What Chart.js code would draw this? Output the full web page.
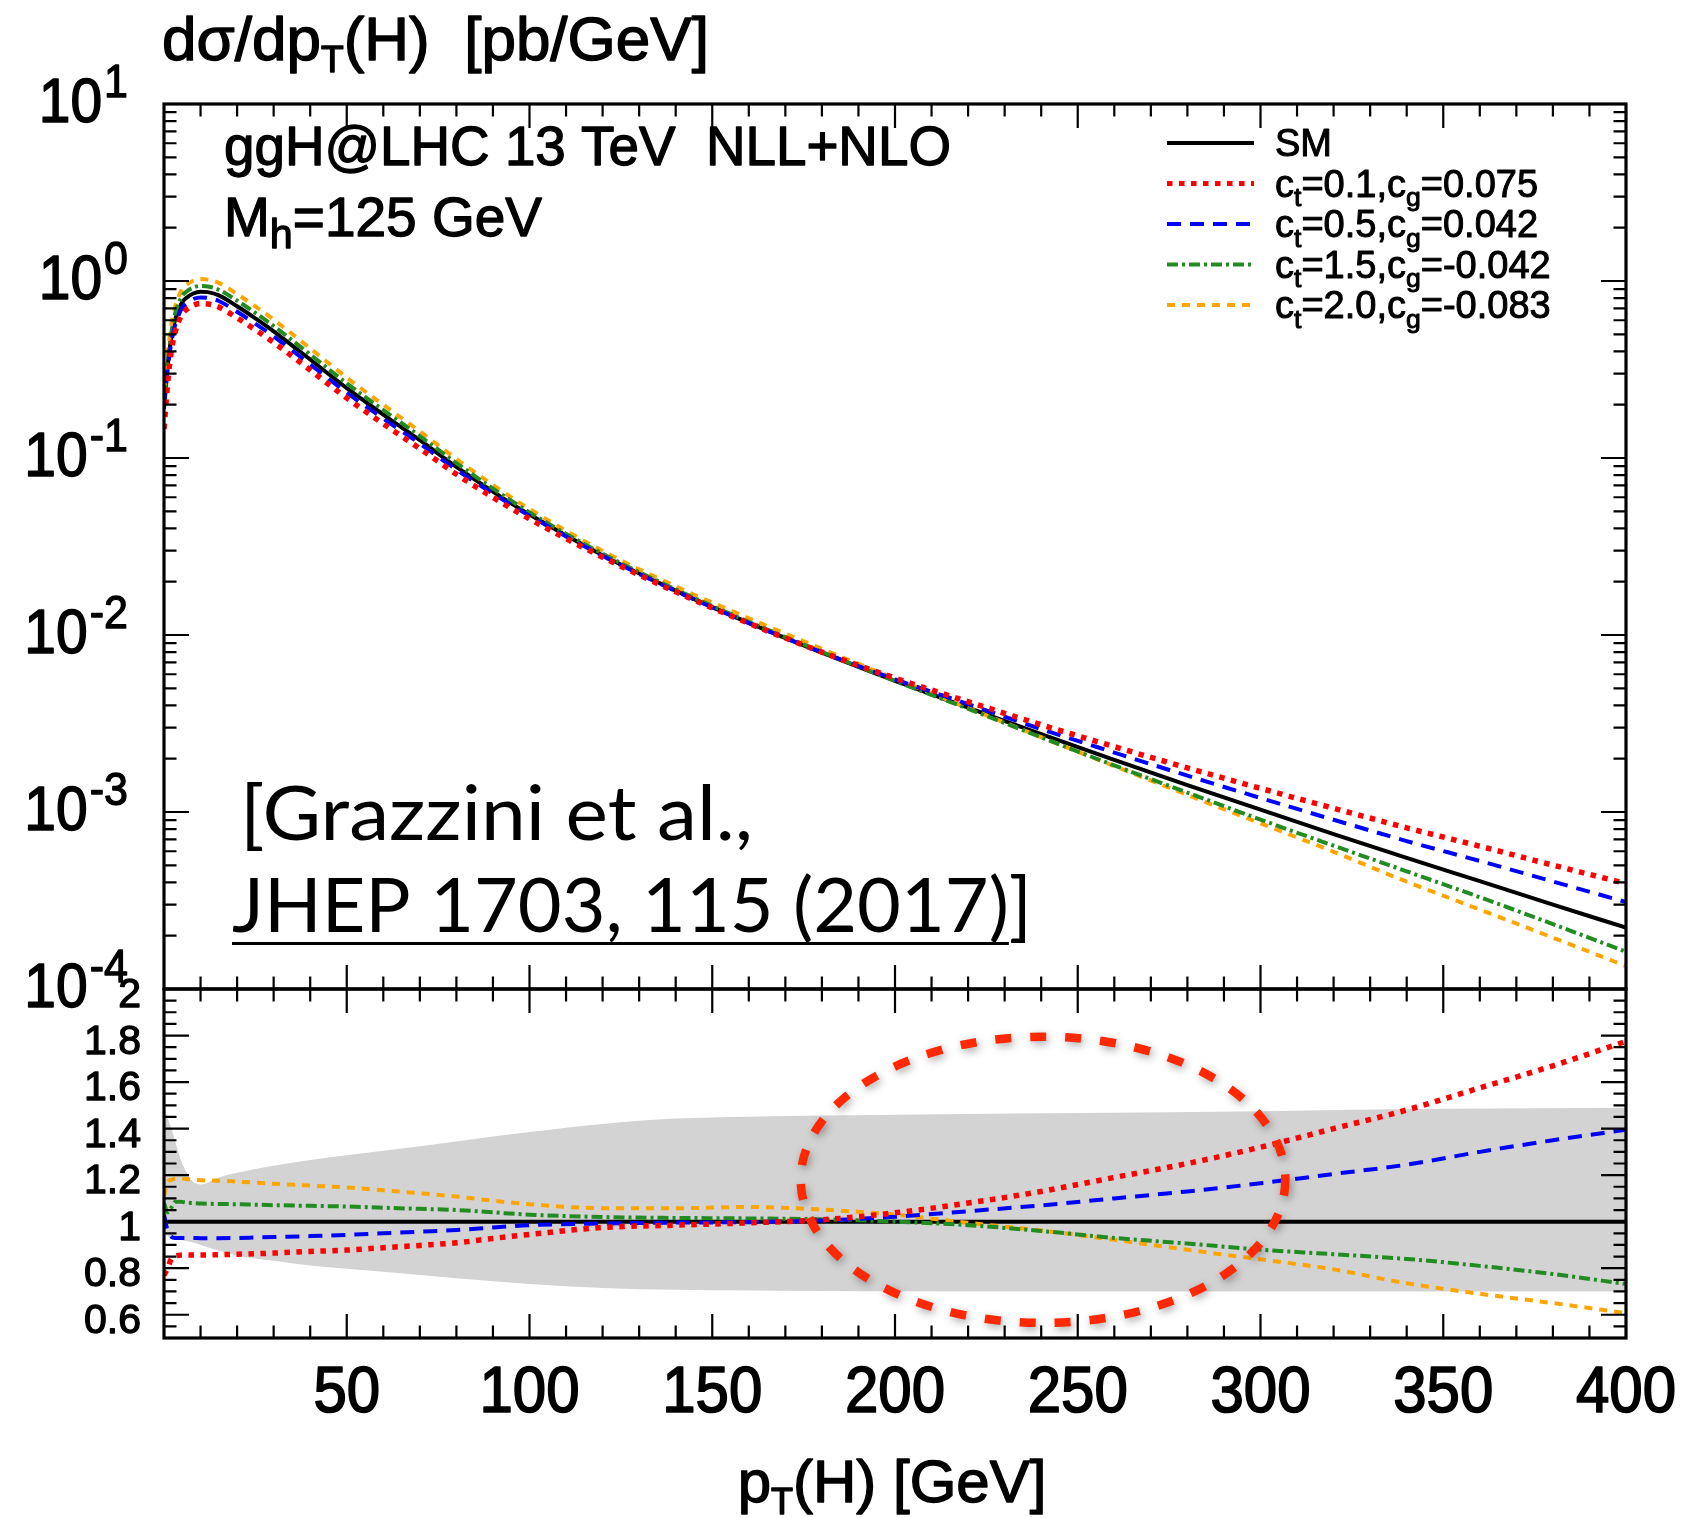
<!DOCTYPE html>
<html><head><meta charset="utf-8">
<script src="https://cdn.jsdelivr.net/npm/chart.js@4.4.1/dist/chart.umd.min.js"></script>
<style>html,body{margin:0;padding:0;background:#fff;}canvas{display:block;}</style>
</head><body>
<canvas id="c" width="1695" height="1518" style="width:1695px;height:1518px"></canvas>
<script>
// ---------------- data ----------------
const pT = [0,1,2,3,4,5,6,8,10,12,15,20,25,30,40,50,60,70,80,90,100,120,140,160,180,200,220,240,260,280,300,320,340,360,380,400];

// dsigma/dpT [pb/GeV]
const smXsec   = [0.19,0.33,0.48,0.60,0.69,0.76,0.80,0.85,0.87,0.865,0.83,0.72,0.615,0.52,0.36,0.248,0.176,0.126,0.0891,0.0646,0.0479,0.0282,0.0178,0.0117,0.00794,0.0055,0.00389,0.00275,0.00197,0.00142,0.00103,0.00075,0.00055,0.000407,0.0003,0.000222];
const ct01Xsec = [0.146,0.264,0.403,0.51,0.590,0.651,0.686,0.728,0.746,0.741,0.712,0.619,0.530,0.450,0.314,0.218,0.156,0.113,0.0810,0.0599,0.0453,0.0275,0.01753,0.01164,0.00800,0.00571,0.00420,0.00311,0.00234,0.001775,0.00136,0.00105,0.000814,0.000641,0.000501,0.000394];
const ct05Xsec = [0.196,0.317,0.449,0.558,0.642,0.707,0.744,0.791,0.808,0.804,0.771,0.670,0.573,0.486,0.338,0.234,0.167,0.1206,0.0859,0.0630,0.0472,0.0280,0.01773,0.01168,0.00798,0.00562,0.00407,0.00294,0.002167,0.001605,0.0012,0.000904,0.000685,0.000529,0.000405,0.00031];
const ct15Xsec = [0.205,0.343,0.509,0.651,0.749,0.825,0.866,0.918,0.938,0.932,0.893,0.774,0.660,0.557,0.3845,0.264,0.1866,0.1329,0.0936,0.0672,0.0493,0.02876,0.01808,0.01186,0.00802,0.0055,0.00383,0.00264,0.001832,0.001287,0.000906,0.000645,0.000462,0.00033,0.0002325,0.0001625];
const ct20Xsec = [0.211,0.386,0.566,0.711,0.818,0.901,0.946,1.003,1.025,1.018,0.976,0.844,0.718,0.605,0.416,0.2845,0.1998,0.1414,0.0987,0.0704,0.0515,0.02984,0.01883,0.01244,0.00835,0.00567,0.00387,0.002646,0.001816,0.001248,0.000863,0.000596,0.000404,0.000281,0.000195,0.0001348];

// ratio to SM
const smRatioX  = [0, 400];
const smRatio   = [1, 1];
const ct01Ratio = [0.77,0.80,0.84,0.85,0.855,0.857,0.857,0.857,0.857,0.857,0.858,0.86,0.862,0.865,0.872,0.878,0.888,0.898,0.909,0.928,0.945,0.975,0.985,0.995,1.008,1.038,1.08,1.13,1.19,1.25,1.32,1.40,1.48,1.575,1.67,1.775];
const ct05Ratio = [1.03,0.96,0.935,0.93,0.93,0.93,0.93,0.93,0.929,0.929,0.929,0.93,0.932,0.934,0.938,0.943,0.95,0.957,0.964,0.975,0.985,0.992,0.996,0.998,1.005,1.021,1.045,1.07,1.1,1.13,1.165,1.205,1.245,1.30,1.35,1.395];
const ct15Ratio = [1.08,1.04,1.06,1.085,1.086,1.085,1.082,1.08,1.078,1.077,1.076,1.075,1.073,1.071,1.068,1.065,1.06,1.055,1.05,1.04,1.03,1.02,1.016,1.014,1.01,1.0,0.985,0.96,0.93,0.906,0.88,0.86,0.84,0.81,0.775,0.732];
const ct20Ratio = [1.11,1.17,1.18,1.185,1.186,1.185,1.183,1.18,1.178,1.177,1.176,1.172,1.168,1.163,1.155,1.147,1.135,1.122,1.108,1.09,1.075,1.058,1.058,1.063,1.052,1.03,0.995,0.962,0.922,0.879,0.838,0.795,0.735,0.69,0.65,0.607];

// SM uncertainty band (ratio)
const bandX  = [0,2,5,8,10,15,20,30,40,50,60,80,100,120,140,160,180,200,250,300,350,400];
const bandUp = [1.49,1.40,1.25,1.17,1.16,1.19,1.21,1.24,1.265,1.285,1.305,1.345,1.385,1.42,1.443,1.451,1.456,1.46,1.467,1.475,1.485,1.49];
const bandLo = [0.95,0.93,0.92,0.91,0.90,0.875,0.855,0.832,0.812,0.798,0.785,0.757,0.732,0.715,0.707,0.704,0.702,0.701,0.70,0.70,0.70,0.70];

// ticks / labels
const xTicks = [50,100,150,200,250,300,350,400];
const xTickLabels = ['50','100','150','200','250','300','350','400'];
const logTicks = [10,1,0.1,0.01,0.001,0.0001];
const logTickExp = ['1','0','-1','-2','-3','-4'];
const ratioTicks = [2,1.8,1.6,1.4,1.2,1,0.8,0.6];
const ratioTickLabels = ['2','1.8','1.6','1.4','1.2','1','0.8','0.6'];
const legendLabels = ['SM','c_{t}=0.1,c_{g}=0.075','c_{t}=0.5,c_{g}=0.042','c_{t}=1.5,c_{g}=-0.042','c_{t}=2.0,c_{g}=-0.083'];
const yTitle = 'dσ/dp_{T}(H)  [pb/GeV]';
const xTitle = 'p_{T}(H) [GeV]';
const infoLines = ['ggH@LHC 13 TeV  NLL+NLO', 'M_{h}=125 GeV'];
const citeLines = ['[Grazzini et al.,', 'JHEP 1703, 115 (2017)]'];
// highlighted region (data coords: pT, ratio)
const ellipseCenter = [240.5, 1.18];
const ellipseRadius = [66.3, 0.615];

// ---------------- styles ----------------
const ST = {
  sm:  {color:'#000000', width:4,   dash:[]},
  r01: {color:'#ff0000', width:5.5, dash:[5.5,6.5]},
  b05: {color:'#0000ff', width:4,   dash:[14,9]},
  g15: {color:'#228b22', width:4,   dash:[11,4,3,4]},
  o20: {color:'#ffa500', width:4,   dash:[8,7]}
};
const FONT = '"Liberation Sans", Arial, Helvetica, sans-serif';

function pts(xs, ys){ return xs.map((x,i)=>({x:x, y:ys[i]})); }
function lineDs(xs, ys, st, axis){
  return {data:pts(xs,ys), yAxisID:axis, borderColor:st.color, borderWidth:st.width, borderDash:st.dash,
    borderCapStyle:'butt', pointRadius:0, fill:false, cubicInterpolationMode:'monotone', order:0};
}
const datasets = [
  lineDs(pT, ct01Xsec, ST.r01, 'y'),
  lineDs(pT, ct05Xsec, ST.b05, 'y'),
  lineDs(pT, ct15Xsec, ST.g15, 'y'),
  lineDs(pT, ct20Xsec, ST.o20, 'y'),
  lineDs(pT, smXsec,   ST.sm,  'y'),
  lineDs(pT, ct01Ratio, ST.r01, 'yr'),
  lineDs(pT, ct05Ratio, ST.b05, 'yr'),
  lineDs(pT, ct15Ratio, ST.g15, 'yr'),
  lineDs(pT, ct20Ratio, ST.o20, 'yr'),
  lineDs(smRatioX, smRatio, ST.sm, 'yr'),
  {data:pts(bandX,bandUp), yAxisID:'yr', borderWidth:0, pointRadius:0, backgroundColor:'#d3d3d3', fill:'+1', order:5, cubicInterpolationMode:'monotone'},
  {data:pts(bandX,bandLo), yAxisID:'yr', borderWidth:0, pointRadius:0, backgroundColor:'#d3d3d3', fill:false, order:5, cubicInterpolationMode:'monotone'}
];

// ---------------- text helpers ----------------
function parseRuns(s){
  const out=[]; const re=/([_^])\{([^}]*)\}/g; let last=0, m;
  while((m=re.exec(s))){ if(m.index>last) out.push([s.slice(last,m.index),'n']); out.push([m[2], m[1]==='_'?'sub':'sup']); last=re.lastIndex; }
  if(last<s.length) out.push([s.slice(last),'n']);
  return out;
}
function drawRuns(ctx, str, x, y, size, o){
  o = Object.assign({align:'left', sx:1, sy:1, font:FONT, color:'#000', subScale:0.7, subDy:0.24, supDy:-0.42, width:null, bold:1.1}, o||{});
  const parts = parseRuns(str);
  let W = 0; const ws = [];
  for(const p of parts){ const fs = p[1]==='n'?size:size*o.subScale; ctx.font = fs+'px '+o.font; const w = ctx.measureText(p[0]).width; ws.push(w); W += w; }
  let sx = o.sx; if(o.width) sx = o.width / W;
  const x0 = o.align==='left'? x : (o.align==='right'? x - W*sx : x - W*sx/2);
  ctx.save(); ctx.translate(x0, y); ctx.scale(sx, o.sy);
  ctx.fillStyle = o.color; ctx.strokeStyle = o.color; ctx.lineWidth = o.bold; ctx.lineJoin='round'; ctx.setLineDash([]);
  ctx.textBaseline='alphabetic'; ctx.textAlign='left';
  let cx = 0;
  parts.forEach((p,i)=>{ const fs = p[1]==='n'?size:size*o.subScale; ctx.font = fs+'px '+o.font;
    const dy = p[1]==='sub'? o.subDy*size : (p[1]==='sup'? o.supDy*size : 0);
    ctx.fillText(p[0], cx, dy); if(o.bold>0) ctx.strokeText(p[0], cx, dy); cx += ws[i]; });
  ctx.restore();
  return W*sx;
}

// ---------------- decoration plugin ----------------
const decor = {
  id:'decor',
  afterDraw(chart){
    const ctx = chart.ctx, X = chart.scales.x, Y = chart.scales.y, R = chart.scales.yr;
    const L = X.left, Rt = X.right;
    ctx.save();
    // frames
    ctx.strokeStyle = '#000'; ctx.lineWidth = 3.2; ctx.setLineDash([]);
    ctx.strokeRect(L, Y.top, Rt-L, Y.bottom-Y.top);
    ctx.strokeRect(L, R.top, Rt-L, R.bottom-R.top);
    // ticks
    ctx.lineWidth = 2.2;
    ctx.beginPath();
    for(let v=10; v<400; v+=10){
      const px = X.getPixelForValue(v); const len = (v%50===0)?24:12.5;
      ctx.moveTo(px, Y.top); ctx.lineTo(px, Y.top+len);
      ctx.moveTo(px, Y.bottom-len); ctx.lineTo(px, R.top+len);
      ctx.moveTo(px, R.bottom-len); ctx.lineTo(px, R.bottom);
    }
    for(let k=-4; k<=0; k++){
      for(let m=1; m<=9; m++){
        const v = m*Math.pow(10,k); if(k===-4 && m===1) continue;
        const py = Y.getPixelForValue(v); const len = (m===1)?25:12.5;
        ctx.moveTo(L, py); ctx.lineTo(L+len, py);
        ctx.moveTo(Rt-len, py); ctx.lineTo(Rt, py);
      }
    }
    for(let i=11; i<40; i++){
      const v = i*0.05; const py = R.getPixelForValue(v); const len = (i%4===0)?25:12.5;
      ctx.moveTo(L, py); ctx.lineTo(L+len, py);
      ctx.moveTo(Rt-len, py); ctx.lineTo(Rt, py);
    }
    ctx.stroke();

    // x tick labels
    xTicks.forEach((v,i)=>{ drawRuns(ctx, xTickLabels[i], X.getPixelForValue(v), R.bottom+74, 60, {align:'center', sy:1.08, bold:1.6}); });
    // ratio tick labels
    ratioTicks.forEach((v,i)=>{ drawRuns(ctx, ratioTickLabels[i], L-23, R.getPixelForValue(v)+18, 41, {align:'right', bold:1.3}); });
    // log tick labels
    logTicks.forEach((v,i)=>{
      const py = Y.getPixelForValue(v);
      const ws = drawRuns(ctx, logTickExp[i], L-36, py-7, 43, {align:'right', sy:1.08, bold:1.2});
      drawRuns(ctx, '10', L-36-ws-2, py+18, 57, {align:'right', sy:1.1, bold:1.4});
    });
    // titles
    drawRuns(ctx, yTitle, L-2, 60, 62, {subScale:0.6, subDy:0.2, bold:1.4});
    drawRuns(ctx, xTitle, X.getPixelForValue(200)-3, 1502, 60, {align:'center', subScale:0.6, subDy:0.2, bold:1.4});
    // info text
    drawRuns(ctx, infoLines[0], 224, 165, 55, {width:727, bold:1.3});
    drawRuns(ctx, infoLines[1], 224, 236, 55, {subScale:0.75, subDy:0.22, bold:1.3});
    // legend
    const legStyles = [ST.sm, ST.r01, ST.b05, ST.g15, ST.o20];
    legendLabels.forEach((lab,i)=>{
      const ly = 143 + i*40.5; const st = legStyles[i];
      ctx.save(); ctx.strokeStyle = st.color; ctx.lineWidth = (i===0)?3.8:Math.min(st.width,4.8); ctx.setLineDash(st.dash); ctx.lineCap='butt';
      ctx.beginPath(); ctx.moveTo(1167, ly); ctx.lineTo(1254, ly); ctx.stroke(); ctx.restore();
      drawRuns(ctx, lab, 1275, ly+13, 38, {subScale:0.7, subDy:0.25, bold:1.0});
    });
    // citation
    const cf = 'Lato, "Open Sans", sans-serif';
    drawRuns(ctx, citeLines[0], 240, 840, 75, {font:cf, width:513, bold:0});
    const w2 = drawRuns(ctx, citeLines[1], 232, 932, 75, {font:cf, width:800, bold:0});
    ctx.font = '75px '+cf;
    const full = ctx.measureText(citeLines[1]).width, br = ctx.measureText(']').width;
    const ulEnd = 232 + w2*(full-br)/full;
    ctx.fillStyle = '#000'; ctx.fillRect(232, 942, ulEnd-232, 3);

    // highlight ellipse
    const cx = X.getPixelForValue(ellipseCenter[0]), cy = R.getPixelForValue(ellipseCenter[1]);
    const rx = X.getPixelForValue(ellipseCenter[0]+ellipseRadius[0]) - cx;
    const ry = cy - R.getPixelForValue(ellipseCenter[1]+ellipseRadius[1]);
    ctx.save();
    ctx.shadowColor = 'rgba(0,0,0,0.35)'; ctx.shadowBlur = 8; ctx.shadowOffsetX = 2; ctx.shadowOffsetY = 3;
    ctx.strokeStyle = 'rgb(255,40,0)'; ctx.lineWidth = 8.5; ctx.setLineDash([16,19]); ctx.lineCap='butt';
    ctx.beginPath(); ctx.ellipse(cx, cy, rx, ry, 0, 0, Math.PI*2); ctx.stroke();
    ctx.restore();
    ctx.restore();
  }
};

const axisOff = {display:true, ticks:{display:false}, grid:{display:false, drawTicks:false}, border:{display:false}};
new Chart(document.getElementById('c').getContext('2d'), {
  type:'line',
  data:{datasets:datasets},
  options:{
    responsive:false, animation:false, devicePixelRatio:1, events:[],
    layout:{padding:{left:164, right:69, top:104, bottom:180}},
    plugins:{legend:{display:false}, tooltip:{enabled:false}},
    scales:{
      x: Object.assign({type:'linear', min:0, max:400}, axisOff),
      yr: Object.assign({type:'linear', position:'left', stack:'panels', stackWeight:349, min:0.5, max:2}, axisOff),
      y: Object.assign({type:'logarithmic', position:'left', stack:'panels', stackWeight:885, min:1e-4, max:10}, axisOff)
    }
  },
  plugins:[decor]
});
</script></body></html>
